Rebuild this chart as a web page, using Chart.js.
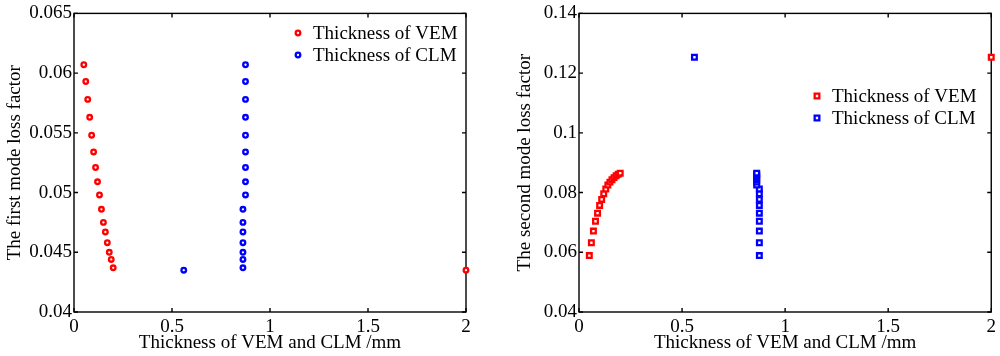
<!DOCTYPE html>
<html lang="en">
<head>
  <meta charset="UTF-8">
  <title>Loss factor vs. thickness</title>
  <script src="https://cdn.jsdelivr.net/npm/chart.js"></script>
  <style>
    html, body { margin: 0; padding: 0; background: #fff; }
    .wrap { position: relative; width: 1000px; height: 356px; }
    .panel { position: absolute; top: 0; width: 500px; height: 356px; }
    #left { left: 0; }
    #right { left: 500px; }
  </style>
</head>
<body>
  <div class="wrap">
    <div class="panel" id="left"><canvas id="firstMode"></canvas></div>
    <div class="panel" id="right"><canvas id="secondMode"></canvas></div>
  </div>

  <script>
    // thickness values (mm), last entry is the extra design point
    const vemThickness = [0.05, 0.06, 0.07, 0.08, 0.09, 0.10, 0.11, 0.12, 0.13, 0.14, 0.15, 0.16, 0.17, 0.18, 0.19, 0.20, 2.0];
    const clmThickness = [0.875, 0.875, 0.875, 0.875, 0.875, 0.875, 0.875, 0.875, 0.875, 0.862, 0.862, 0.862, 0.862, 0.862, 0.862, 0.862, 0.56];

    // loss factors for the two modes
    const firstModeLoss = [0.0607, 0.0593, 0.0578, 0.0563, 0.0548, 0.0534, 0.0521, 0.0509, 0.0498, 0.0486, 0.0475, 0.0467, 0.0458, 0.0450, 0.0444, 0.0437, 0.0435];
    const secondModeLoss = [0.0589, 0.0632, 0.0671, 0.0704, 0.0731, 0.0757, 0.0777, 0.0796, 0.0812, 0.0825, 0.0835, 0.0843, 0.0850, 0.0856, 0.0861, 0.0865, 0.1253];

    const seriesNames = ["Thickness of VEM", "Thickness of CLM"];
    const xTitle = "Thickness of VEM and CLM /mm";

    const FONT = '"Liberation Serif", "Times New Roman", serif';
    Chart.defaults.font.family = FONT;
    Chart.defaults.font.size = 19;
    Chart.defaults.color = "#000";

    const pairs = (xs, ys) => xs.map((x, i) => ({ x: x, y: ys[i] }));
    // 0.060 -> 0.06, 2.0 -> 2
    const plain = v => String(Number(v.toFixed(4)));

    // box around the plot with inward tick marks on all four sides
    const frame = {
      id: "frame",
      beforeDatasetsDraw(chart) {
        const { ctx, chartArea: a, scales: { x, y } } = chart;
        const len = 4;
        ctx.save();
        ctx.strokeStyle = "#000";
        ctx.lineWidth = 1.4;
        ctx.strokeRect(a.left, a.top, a.right - a.left, a.bottom - a.top);
        ctx.beginPath();
        x.ticks.forEach(t => {
          const px = x.getPixelForValue(t.value);
          ctx.moveTo(px, a.bottom); ctx.lineTo(px, a.bottom - len);
          ctx.moveTo(px, a.top); ctx.lineTo(px, a.top + len);
        });
        y.ticks.forEach(t => {
          const py = y.getPixelForValue(t.value);
          ctx.moveTo(a.left, py); ctx.lineTo(a.left + len, py);
          ctx.moveTo(a.right, py); ctx.lineTo(a.right - len, py);
        });
        ctx.stroke();
        ctx.restore();
      }
    };

    function marker(ctx, style, cx, cy, r, bw, color) {
      ctx.beginPath();
      if (style === "rect") {
        const s = Math.SQRT1_2 * r;
        ctx.rect(cx - s, cy - s, 2 * s, 2 * s);
      } else {
        ctx.arc(cx, cy, r, 0, Math.PI * 2);
      }
      ctx.fillStyle = "#fff";
      ctx.fill();
      ctx.lineWidth = bw;
      ctx.strokeStyle = color;
      ctx.stroke();
    }

    // legend drawn inside the plot area
    const keyBox = {
      id: "keyBox",
      afterDatasetsDraw(chart, args, opts) {
        const { ctx } = chart;
        ctx.save();
        chart.data.datasets.forEach((ds, i) => {
          const cy = opts.top + i * opts.row;
          marker(ctx, ds.pointStyle, opts.left, cy, ds.pointRadius, ds.borderWidth, ds.borderColor);
          ctx.fillStyle = "#000";
          ctx.font = "19px " + FONT;
          ctx.textBaseline = "middle";
          ctx.textAlign = "left";
          ctx.fillText(ds.label, opts.left + 15, cy + 1);
        });
        ctx.restore();
      }
    };

    function makeChart(id, ys, style, radius, yRange, yTitle, box, pad) {
      const common = {
        pointStyle: style,
        pointRadius: radius,
        borderWidth: 2.3,
        backgroundColor: "#fff",
        showLine: false,
        clip: false
      };
      return new Chart(document.getElementById(id), {
        type: "scatter",
        data: {
          datasets: [
            Object.assign({ label: seriesNames[0], data: pairs(vemThickness, ys), borderColor: "#ff0000" }, common),
            Object.assign({ label: seriesNames[1], data: pairs(clmThickness, ys), borderColor: "#0000ff" }, common)
          ]
        },
        options: {
          responsive: true,
          maintainAspectRatio: false,
          animation: false,
          layout: { padding: { left: 0, top: 12, right: pad.right, bottom: 0 } },
          plugins: {
            legend: { display: false },
            tooltip: { enabled: false },
            keyBox: box
          },
          scales: {
            x: {
              type: "linear",
              min: 0, max: 2,
              ticks: { stepSize: 0.5, padding: 4, callback: plain },
              grid: { display: false, drawTicks: false },
              border: { display: false },
              title: { display: true, text: xTitle, padding: { top: 0, bottom: 2 } },
              afterFit(s) { s.height = 44; }
            },
            y: {
              min: yRange[0], max: yRange[1],
              ticks: { stepSize: yRange[2], padding: 2, callback: plain },
              grid: { display: false, drawTicks: false },
              border: { display: false },
              title: { display: true, text: yTitle, padding: { top: pad.title, bottom: 0 } },
              afterFit(s) { s.width = pad.left; }
            }
          }
        },
        plugins: [frame, keyBox]
      });
    }

    makeChart("firstMode", firstModeLoss, "circle", 2.3, [0.04, 0.065, 0.005],
      "The first mode loss factor", { left: 298, top: 33, row: 22 }, { left: 74, right: 34, title: 3.6 });

    makeChart("secondMode", secondModeLoss, "rect", 3.3, [0.04, 0.14, 0.02],
      "The second mode loss factor", { left: 317, top: 96, row: 22 }, { left: 79, right: 6, title: 13.6 });
  </script>
</body>
</html>
